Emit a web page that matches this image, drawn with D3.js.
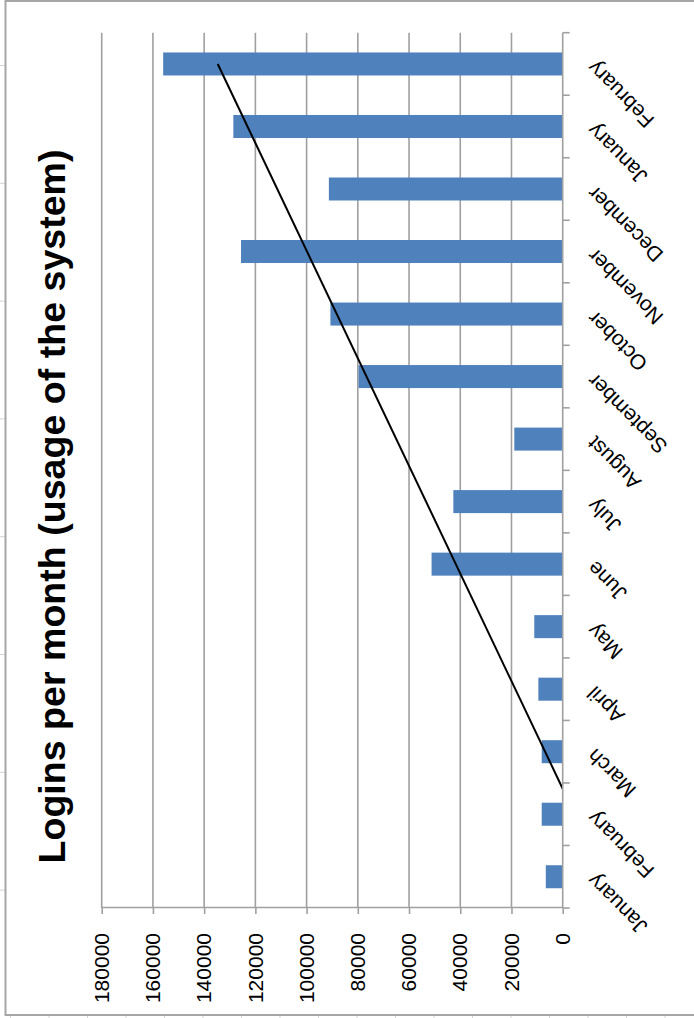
<!DOCTYPE html>
<html>
<head>
<meta charset="utf-8">
<script src="https://cdn.jsdelivr.net/npm/d3@7"></script>
<style>
  body { margin: 0; background: #fff; }
  text { font-family: "Liberation Sans", Arial, sans-serif; }
</style>
</head>
<body>
<script>
// data
const months = ['January', 'February', 'March', 'April', 'May', 'June', 'July',
                'August', 'September', 'October', 'November', 'December', 'January', 'February']
const logins = [6600, 8200, 8200, 9500, 11100, 51200, 42700,
                18900, 79700, 90700, 125600, 91300, 128600, 156000]
const valueTicks = [0, 20000, 40000, 60000, 80000, 100000, 120000, 140000, 160000, 180000]
const title = 'Logins per month (usage of the system)'

const W = 694, H = 1018

const svg = d3.select('body').append('svg')
  .attr('width', W)
  .attr('height', H)

svg.append('rect').attr('width', W).attr('height', H).attr('fill', '#fff')

// spreadsheet cell lines peeking out round the chart
const cellGrid = svg.append('g').attr('stroke', '#d4d4d4').attr('stroke-width', 1)
d3.range(8).forEach(k => {
  cellGrid.append('line').attr('x1', 0).attr('x2', 5).attr('y1', 65.5 + 117.8 * k).attr('y2', 65.5 + 117.8 * k)
})
d3.range(18).forEach(k => {
  cellGrid.append('line').attr('x1', 10.5 + 38.5 * k).attr('x2', 10.5 + 38.5 * k).attr('y1', 1015).attr('y2', H)
})

// the whole chart is drawn upright, then turned a quarter turn
const chart = svg.append('g').attr('transform', 'translate(0,' + H + ') rotate(-90)')

// chart area border
chart.append('rect')
  .attr('x', 3).attr('y', 5.5)
  .attr('width', 1014).attr('height', 700)
  .attr('fill', '#fff')
  .attr('stroke', '#a6a6a6')
  .attr('stroke-width', 2)

const plot = { left: 110, right: 985.3, top: 101.7, bottom: 562.7 }

const xScale = d3.scaleBand()
  .domain(d3.range(months.length))
  .range([plot.left, plot.right])
  .paddingInner(0.632)
  .paddingOuter(0.316)

const yScale = d3.scaleLinear()
  .domain([0, 180000])
  .range([plot.bottom, plot.top])

const gridColor = '#a0a0a0'

// gridlines
chart.append('g').selectAll('line')
  .data(valueTicks.filter(d => d > 0))
  .enter().append('line')
  .attr('x1', plot.left).attr('x2', plot.right)
  .attr('y1', d => yScale(d)).attr('y2', d => yScale(d))
  .attr('stroke', gridColor)
  .attr('stroke-width', 1.6)

// bars
chart.append('g').selectAll('rect')
  .data(logins)
  .enter().append('rect')
  .attr('x', (d, i) => xScale(i))
  .attr('width', xScale.bandwidth())
  .attr('y', d => yScale(d))
  .attr('height', d => yScale(0) - yScale(d))
  .attr('fill', '#4f81bd')

// linear trendline (least squares over month index), clipped to plot area
const xs = logins.map((d, i) => i + 1)
const xMean = d3.mean(xs), yMean = d3.mean(logins)
const slope = d3.sum(xs, (x, i) => (x - xMean) * (logins[i] - yMean)) / d3.sum(xs, x => (x - xMean) ** 2)
const intercept = yMean - slope * xMean
const trend = xs.map(x => [x - 1, intercept + slope * x])

chart.append('clipPath').attr('id', 'plotClip')
  .append('rect')
  .attr('x', plot.left).attr('y', plot.top)
  .attr('width', plot.right - plot.left).attr('height', plot.bottom - plot.top)

const centre = i => xScale(i) + xScale.bandwidth() / 2
chart.append('path')
  .datum([trend[0], trend[trend.length - 1]])
  .attr('clip-path', 'url(#plotClip)')
  .attr('d', d3.line().x(d => centre(d[0])).y(d => yScale(d[1])))
  .attr('fill', 'none')
  .attr('stroke', '#000')
  .attr('stroke-width', 2)

// value axis
const yAxis = chart.append('g')
  .attr('transform', 'translate(' + plot.left + ',0)')
  .call(d3.axisLeft(yScale).tickValues(valueTicks).tickSize(6).tickSizeOuter(0)
    .tickPadding(19).tickFormat(d3.format('d')))
yAxis.select('.domain').attr('stroke', gridColor).attr('stroke-width', 1.6)
yAxis.selectAll('.tick line').attr('stroke', gridColor).attr('stroke-width', 1.6)
yAxis.selectAll('.tick text')
  .style('font-family', '"Liberation Sans", Arial, sans-serif')
  .style('font-size', '21px')
  .attr('fill', '#000')

// category axis
const bounds = d3.range(months.length + 1).map(k => plot.left + xScale.step() * k)
chart.append('line')
  .attr('x1', plot.left).attr('x2', plot.right)
  .attr('y1', plot.bottom).attr('y2', plot.bottom)
  .attr('stroke', gridColor).attr('stroke-width', 1.6)
chart.append('g').selectAll('line')
  .data(bounds)
  .enter().append('line')
  .attr('x1', d => d).attr('x2', d => d)
  .attr('y1', plot.bottom).attr('y2', plot.bottom + 7)
  .attr('stroke', gridColor).attr('stroke-width', 1.6)

chart.append('g').selectAll('text')
  .data(months)
  .enter().append('text')
  .attr('transform', (d, i) => 'translate(' + (centre(i) - 1) + ',' + (plot.bottom + 28) + ') rotate(-45)')
  .attr('text-anchor', 'end')
  .attr('dominant-baseline', 'central')
  .style('font-size', '21px')
  .attr('fill', '#000')
  .text(d => d)

// title
chart.append('text')
  .attr('x', 511.5)
  .attr('y', 65)
  .attr('text-anchor', 'middle')
  .style('font-size', '37.6px')
  .style('font-weight', 'bold')
  .attr('fill', '#000')
  .text(title)
</script>
</body>
</html>
